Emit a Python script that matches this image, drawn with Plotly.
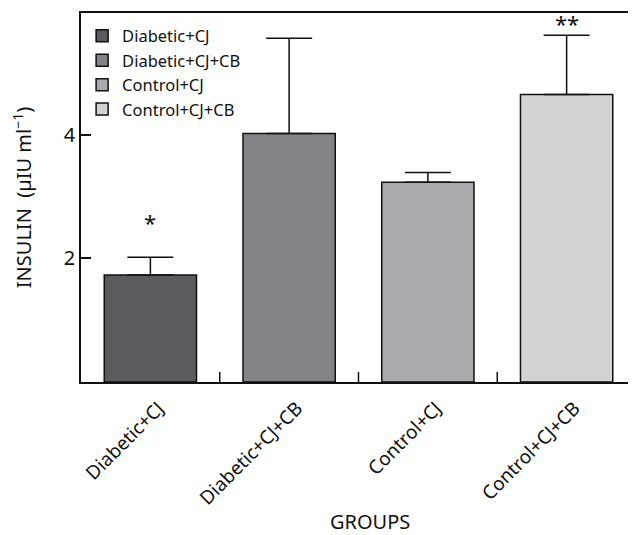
import plotly.graph_objects as go

groups = ["Diabetic+CJ", "Diabetic+CJ+CB", "Control+CJ", "Control+CJ+CB"]
insulin = [1.73, 4.02, 3.23, 4.65]
sem = [0.29, 1.54, 0.16, 0.96]
colors = ["#5b5c5f", "#838488", "#a9aaad", "#d2d3d5"]
stars = ["*", "", "", "**"]

FONT = "Noto Sans"

fig = go.Figure()
for g, v, e, c in zip(groups, insulin, sem, colors):
    fig.add_trace(go.Bar(
        x=[g], y=[v], name=g, width=0.665,
        marker=dict(color=c, line=dict(color="#111111", width=1.5)),
        error_y=dict(type="data", symmetric=False, array=[e], arrayminus=[0],
                     color="#111111", thickness=1.5, width=23),
    ))

for g, v, e, s in zip(groups, insulin, sem, stars):
    if s:
        fig.add_annotation(x=g, y=v + e, text=s, showarrow=False, yshift=35 if s == "*" else 12,
                           font=dict(family=FONT, size=22, color="#111"))

fig.add_annotation(text="GROUPS", xref="paper", yref="paper", x=0.52, y=-0.379,
                   xanchor="center", yanchor="middle",
                   showarrow=False, font=dict(family=FONT, size=20, color="#111"))

fig.update_layout(
    width=636, height=535,
    margin=dict(l=73, r=8, t=5, b=161),
    plot_bgcolor="white", paper_bgcolor="white",
    barmode="overlay",
    font=dict(family=FONT, color="#111111"),
    legend=dict(x=0.002, y=0.985, xanchor="left", yanchor="top",
                font=dict(family=FONT, size=16.5, color="#111"),
                bgcolor="rgba(0,0,0,0)", tracegroupgap=0, itemwidth=30),
    showlegend=True,
)
fig.update_xaxes(
    range=[-0.5, 3.5], showline=True, linecolor="#111", linewidth=1.5, mirror=True,
    ticks="", tickangle=-45, tickfont=dict(family=FONT, size=19, color="#111"),
    ticklabelstandoff=6, ticklabelshift=8,
    showgrid=False, automargin=False,
)
fig.update_yaxes(
    range=[0, 5.97], showline=True, linecolor="#111", linewidth=1.5,
    ticks="inside", ticklen=10, tickwidth=1.5, tickcolor="#111",
    tickvals=[2, 4], tickfont=dict(family=FONT, size=20, color="#111"),
    title=dict(text="INSULIN  (µIU ml<sup>−1</sup>)", font=dict(family=FONT, size=20, color="#111"), standoff=27),
    showgrid=False, zeroline=False, automargin=False,
)
# category boundary ticks pointing up from the x axis
for i in range(1, 4):
    fig.add_shape(type="line", xref="x", yref="paper", x0=i - 0.5, x1=i - 0.5, y0=0, y1=0.027,
                  line=dict(color="#111", width=1.5))

fig.write_html("out.html")
